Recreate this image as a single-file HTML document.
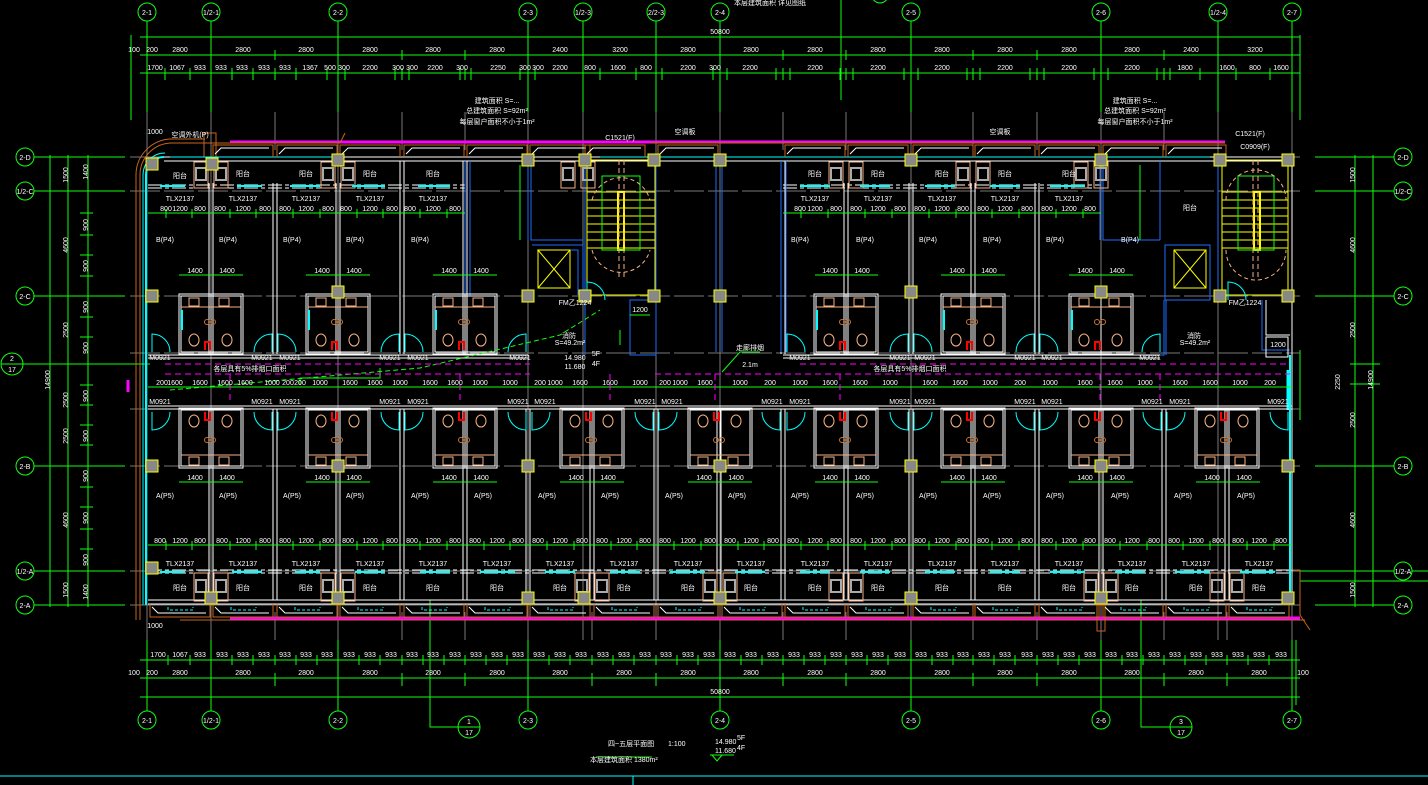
<!DOCTYPE html>
<html><head><meta charset="utf-8"><style>
html,body{margin:0;padding:0;background:#000;width:1428px;height:785px;overflow:hidden}
svg{display:block}
text{font-family:"Liberation Sans","Noto Sans CJK SC",sans-serif;fill:#fff;font-size:7px}
</style></head><body>
<svg width="1428" height="785" viewBox="0 0 1428 785" xmlns="http://www.w3.org/2000/svg">
<defs>
<g id="col"><rect x="-6" y="-6" width="12" height="12" fill="#888" stroke="#ff0" stroke-width="1"/></g>
<g id="ub" fill="none" stroke-width="1">
 <rect x="-32" y="294" width="64" height="60" stroke="#fff"/>
 <rect x="-30" y="296" width="60" height="56" stroke="#fff"/>
 <line x1="0" y1="294" x2="0" y2="354" stroke="#fff"/>
 <line x1="-30" y1="307" x2="30" y2="307" stroke="#f4b183"/>
 <rect x="-22" y="298" width="10" height="8" stroke="#f4b183"/><rect x="8" y="298" width="10" height="8" stroke="#f4b183"/>
 <ellipse cx="-17" cy="340" rx="5" ry="6" stroke="#f4b183"/><ellipse cx="16" cy="340" rx="5" ry="6" stroke="#f4b183"/>
 <path d="M-6 350 V342 H-1 V350" stroke="#f00" stroke-width="2"/>
 <circle cx="-4" cy="322" r="2.5" stroke="#c87533"/><circle cx="2" cy="322" r="2.5" stroke="#c87533"/>
 <line x1="-29" y1="310" x2="-29" y2="330" stroke="#0ff" stroke-width="2"/>
</g>
<g id="lb" fill="none" stroke-width="1">
 <rect x="-32" y="408" width="64" height="60" stroke="#fff"/>
 <rect x="-30" y="410" width="60" height="56" stroke="#fff"/>
 <line x1="0" y1="408" x2="0" y2="468" stroke="#fff"/>
 <line x1="-30" y1="455" x2="30" y2="455" stroke="#f4b183"/>
 <rect x="-22" y="457" width="10" height="8" stroke="#f4b183"/><rect x="8" y="457" width="10" height="8" stroke="#f4b183"/>
 <ellipse cx="-17" cy="421" rx="5" ry="6" stroke="#f4b183"/><ellipse cx="16" cy="421" rx="5" ry="6" stroke="#f4b183"/>
 <path d="M-6 412 V420 H-1 V412" stroke="#f00" stroke-width="2"/>
 <circle cx="-4" cy="440" r="2.5" stroke="#c87533"/><circle cx="2" cy="440" r="2.5" stroke="#c87533"/>
</g>
<g id="wu" fill="none" stroke-width="1">
 <rect x="-17" y="162" width="14" height="26" stroke="#f4b183"/><rect x="-15" y="168" width="10" height="12" stroke="#aaa" stroke-width="2"/>
 <rect x="3" y="162" width="14" height="26" stroke="#f4b183"/><rect x="5" y="168" width="10" height="12" stroke="#aaa" stroke-width="2"/>
</g>
<g id="wl" fill="none" stroke-width="1">
 <rect x="-17" y="573" width="14" height="28" stroke="#f4b183"/><rect x="-15" y="580" width="10" height="12" stroke="#aaa" stroke-width="2"/>
 <rect x="3" y="573" width="14" height="28" stroke="#f4b183"/><rect x="5" y="580" width="10" height="12" stroke="#aaa" stroke-width="2"/>
</g>
<g id="balc" fill="none" stroke-width="1">
 <path d="M4 607 L10 613 H58" stroke="#fff"/>
 <path d="M20 607 V610 H45 V607" stroke="#0ff" stroke-dasharray="3 2"/>
 <path d="M2 604 V617 H62 V604" stroke="#c8641e"/>
</g>
<g id="btop" fill="none" stroke-width="1">
 <path d="M4 154 L10 148 H58" stroke="#fff"/>
 <path d="M2 157 V145 H62 V157" stroke="#c8641e"/>
</g>
<g id="door" fill="none" stroke="#0ff" stroke-width="1"><path d="M0 0 V-18 A18 18 0 0 1 18 0"/></g>
</defs>

<!-- grid lines vertical -->
<g stroke="#1f1" stroke-width="1" fill="none">
 <line x1="147" y1="21" x2="147" y2="120"/><line x1="211" y1="21" x2="211" y2="120"/><line x1="338" y1="21" x2="338" y2="120"/>
 <line x1="528" y1="21" x2="528" y2="120"/><line x1="583" y1="21" x2="583" y2="120"/><line x1="656" y1="21" x2="656" y2="120"/>
 <line x1="720" y1="21" x2="720" y2="120"/><line x1="911" y1="21" x2="911" y2="120"/><line x1="1101" y1="21" x2="1101" y2="120"/>
 <line x1="1218" y1="21" x2="1218" y2="120"/><line x1="1292" y1="21" x2="1292" y2="120"/><line x1="841" y1="0" x2="841" y2="100"/>
 <line x1="147" y1="640" x2="147" y2="711"/><line x1="211" y1="640" x2="211" y2="711"/><line x1="338" y1="640" x2="338" y2="711"/>
 <line x1="528" y1="640" x2="528" y2="711"/><line x1="720" y1="640" x2="720" y2="711"/><line x1="911" y1="640" x2="911" y2="711"/>
 <line x1="1101" y1="640" x2="1101" y2="711"/><line x1="1292" y1="640" x2="1292" y2="711"/>
 <path d="M430 600 V727 H458"/><path d="M1141 600 V727 H1170"/>
 <!-- top dims -->
 <line x1="140" y1="37" x2="1300" y2="37"/><line x1="140" y1="55" x2="1300" y2="55"/><line x1="140" y1="73" x2="1300" y2="73"/>
 <line x1="140" y1="660" x2="1300" y2="660"/><line x1="140" y1="678" x2="1300" y2="678"/><line x1="140" y1="697" x2="1300" y2="697"/>
 <!-- horizontal axes -->
 <line x1="34" y1="157" x2="125" y2="157"/><line x1="34" y1="191" x2="125" y2="191"/><line x1="34" y1="296" x2="125" y2="296"/>
 <line x1="23" y1="364" x2="150" y2="364"/><line x1="34" y1="466" x2="125" y2="466"/><line x1="34" y1="571" x2="125" y2="571"/><line x1="34" y1="605" x2="125" y2="605"/>
 <line x1="1315" y1="157" x2="1394" y2="157"/><line x1="1315" y1="191" x2="1394" y2="191"/><line x1="1315" y1="296" x2="1394" y2="296"/>
 <line x1="1315" y1="466" x2="1394" y2="466"/><line x1="1300" y1="571" x2="1428" y2="571"/><line x1="1300" y1="581" x2="1428" y2="581"/><line x1="1315" y1="605" x2="1394" y2="605"/>
 <line x1="50" y1="155" x2="50" y2="607"/><line x1="68" y1="155" x2="68" y2="607"/><line x1="88" y1="155" x2="88" y2="607"/>
 <line x1="1355" y1="155" x2="1355" y2="607"/><line x1="1373" y1="155" x2="1373" y2="607"/><line x1="1300" y1="350" x2="1300" y2="420"/>
 <line x1="131" y1="35" x2="131" y2="120"/><line x1="1300" y1="35" x2="1300" y2="120"/>
 <line x1="1296" y1="640" x2="1296" y2="705"/>
</g>
<!-- dim ticks -->
<g stroke="#1f1" stroke-width="1">
 <path d="M147 50V60M211 50V60M275 50V60M338 50V60M402 50V60M465 50V60M528 50V60M583 50V60M656 50V60M720 50V60M783 50V60M846 50V60M911 50V60M973 50V60M1037 50V60M1101 50V60M1164 50V60M1218 50V60M1292 50V60"/>
 <path d="M165 68V80M190 68V80M211 68V80M232 68V80M253 68V80M275 68V80M296 68V80M327 68V80M345 68V80M395 68V80M402 68V80M409 68V80M460 68V80M465 68V80M471 68V80M520 68V80M528 68V80M535 68V80M583 68V80M600 68V80M636 68V80M656 68V80M662 68V80M713 68V80M720 68V80M727 68V80M776 68V80M783 68V80M790 68V80M840 68V80M846 68V80M853 68V80M904 68V80M911 68V80M918 68V80M967 68V80M973 68V80M980 68V80M1030 68V80M1037 68V80M1044 68V80M1094 68V80M1101 68V80M1108 68V80M1157 68V80M1164 68V80M1170 68V80M1200 68V80M1218 68V80M1236 68V80M1270 68V80M1292 68V80"/>
 <path d="M147 655V665M168 655V665M190 655V665M211 655V665M232 655V665M253 655V665M275 655V665M296 655V665M317 655V665M338 655V665M359 655V665M380 655V665M402 655V665M423 655V665M444 655V665M465 655V665M486 655V665M507 655V665M528 655V665M549 655V665M570 655V665M592 655V665M613 655V665M634 655V665M656 655V665M677 655V665M698 655V665M720 655V665M741 655V665M762 655V665M783 655V665M804 655V665M825 655V665M846 655V665M867 655V665M888 655V665M911 655V665M932 655V665M953 655V665M973 655V665M994 655V665M1015 655V665M1037 655V665M1058 655V665M1079 655V665M1101 655V665M1122 655V665M1143 655V665M1164 655V665M1185 655V665M1206 655V665M1227 655V665M1248 655V665M1269 655V665M1292 655V665"/>
 <path d="M147 673V686M211 673V686M275 673V686M338 673V686M402 673V686M465 673V686M528 673V686M592 673V686M656 673V686M720 673V686M783 673V686M846 673V686M911 673V686M973 673V686M1037 673V686M1101 673V686M1164 673V686M1227 673V686M1292 673V686"/>
 <path d="M45 157H93M45 191H93M45 296H93M45 364H93M45 466H93M45 571H93M45 605H93M80 213H93M80 235H93M80 255H93M80 276H93M80 317H93M80 337H93M80 385H93M80 405H93M80 425H93M80 445H93M80 487H93M80 507H93M80 529H93M80 549H93"/>
 <path d="M1350 157H1380M1350 191H1380M1350 296H1380M1350 364H1380M1350 384H1380M1350 466H1380M1350 571H1380M1350 605H1380"/>
</g>
<!-- axis circles -->
<g fill="#000" stroke="#1f1" stroke-width="1">
 <circle cx="147" cy="12" r="9"/><circle cx="211" cy="12" r="9"/><circle cx="338" cy="12" r="9"/><circle cx="528" cy="12" r="9"/>
 <circle cx="583" cy="12" r="9"/><circle cx="656" cy="12" r="9"/><circle cx="720" cy="12" r="9"/><circle cx="911" cy="12" r="9"/>
 <circle cx="1101" cy="12" r="9"/><circle cx="1218" cy="12" r="9"/><circle cx="1292" cy="12" r="9"/>
 <circle cx="147" cy="720" r="9"/><circle cx="211" cy="720" r="9"/><circle cx="338" cy="720" r="9"/><circle cx="528" cy="720" r="9"/>
 <circle cx="720" cy="720" r="9"/><circle cx="911" cy="720" r="9"/><circle cx="1101" cy="720" r="9"/><circle cx="1292" cy="720" r="9"/>
 <circle cx="469" cy="727" r="11"/><circle cx="1181" cy="727" r="11"/><line x1="458" y1="727" x2="480" y2="727"/><line x1="1170" y1="727" x2="1192" y2="727"/>
 <circle cx="25" cy="157" r="9"/><circle cx="25" cy="191" r="9"/><circle cx="25" cy="296" r="9"/><circle cx="12" cy="364" r="11"/><line x1="1" y1="364" x2="23" y2="364"/>
 <circle cx="25" cy="466" r="9"/><circle cx="25" cy="571" r="9"/><circle cx="25" cy="605" r="9"/>
 <circle cx="1403" cy="157" r="9"/><circle cx="1403" cy="191" r="9"/><circle cx="1403" cy="296" r="9"/><circle cx="1403" cy="466" r="9"/><circle cx="1403" cy="571" r="9"/><circle cx="1403" cy="605" r="9"/>
 <circle cx="880" cy="-5" r="8"/>
</g>
<g font-size="7" text-anchor="middle">
 <text x="147" y="15">2-1</text><text x="211" y="15">1/2-1</text><text x="338" y="15">2-2</text><text x="528" y="15">2-3</text><text x="583" y="15">1/2-3</text><text x="656" y="15">2/2-3</text><text x="720" y="15">2-4</text><text x="911" y="15">2-5</text><text x="1101" y="15">2-6</text><text x="1218" y="15">1/2-4</text><text x="1292" y="15">2-7</text>
 <text x="147" y="723">2-1</text><text x="211" y="723">1/2-1</text><text x="338" y="723">2-2</text><text x="528" y="723">2-3</text><text x="720" y="723">2-4</text><text x="911" y="723">2-5</text><text x="1101" y="723">2-6</text><text x="1292" y="723">2-7</text>
 <text x="469" y="724">1</text><text x="469" y="735">17</text><text x="1181" y="724">3</text><text x="1181" y="735">17</text>
 <text x="25" y="160">2-D</text><text x="25" y="194">1/2-C</text><text x="25" y="299">2-C</text><text x="12" y="361">2</text><text x="12" y="372">17</text><text x="25" y="469">2-B</text><text x="25" y="574">1/2-A</text><text x="25" y="608">2-A</text>
 <text x="1403" y="160">2-D</text><text x="1403" y="194">1/2-C</text><text x="1403" y="299">2-C</text><text x="1403" y="469">2-B</text><text x="1403" y="574">1/2-A</text><text x="1403" y="608">2-A</text>
 <text x="720" y="34">50800</text><text x="720" y="694">50800</text>
 <text x="134" y="52">100</text><text x="152" y="52">200</text><text x="180" y="52">2800</text><text x="243" y="52">2800</text><text x="306" y="52">2800</text><text x="370" y="52">2800</text><text x="433" y="52">2800</text><text x="497" y="52">2800</text><text x="560" y="52">2400</text><text x="620" y="52">3200</text><text x="688" y="52">2800</text><text x="751" y="52">2800</text><text x="815" y="52">2800</text><text x="878" y="52">2800</text><text x="942" y="52">2800</text><text x="1005" y="52">2800</text><text x="1069" y="52">2800</text><text x="1132" y="52">2800</text><text x="1191" y="52">2400</text><text x="1255" y="52">3200</text>
 <text x="155" y="70">1700</text><text x="177" y="70">1067</text><text x="200" y="70">933</text><text x="221" y="70">933</text><text x="242" y="70">933</text><text x="264" y="70">933</text><text x="285" y="70">933</text><text x="310" y="70">1367</text><text x="330" y="70">500</text><text x="344" y="70">300</text><text x="370" y="70">2200</text><text x="398" y="70">300</text><text x="412" y="70">300</text><text x="435" y="70">2200</text><text x="462" y="70">300</text><text x="498" y="70">2250</text><text x="525" y="70">300</text><text x="538" y="70">300</text><text x="560" y="70">2200</text><text x="590" y="70">800</text><text x="618" y="70">1600</text><text x="646" y="70">800</text><text x="688" y="70">2200</text><text x="715" y="70">300</text><text x="750" y="70">2200</text><text x="815" y="70">2200</text><text x="878" y="70">2200</text><text x="942" y="70">2200</text><text x="1005" y="70">2200</text><text x="1069" y="70">2200</text><text x="1132" y="70">2200</text><text x="1185" y="70">1800</text><text x="1227" y="70">1600</text><text x="1255" y="70">800</text><text x="1281" y="70">1600</text>
 <text x="158" y="657">1700</text><text x="180" y="657">1067</text><text x="200" y="657">933</text><text x="222" y="657">933</text><text x="243" y="657">933</text><text x="264" y="657">933</text><text x="285" y="657">933</text><text x="306" y="657">933</text><text x="327" y="657">933</text><text x="349" y="657">933</text><text x="370" y="657">933</text><text x="391" y="657">933</text><text x="412" y="657">933</text><text x="433" y="657">933</text><text x="455" y="657">933</text><text x="476" y="657">933</text><text x="497" y="657">933</text><text x="518" y="657">933</text><text x="539" y="657">933</text><text x="560" y="657">933</text><text x="581" y="657">933</text><text x="603" y="657">933</text><text x="624" y="657">933</text><text x="645" y="657">933</text><text x="666" y="657">933</text><text x="688" y="657">933</text><text x="709" y="657">933</text><text x="730" y="657">933</text><text x="751" y="657">933</text><text x="773" y="657">933</text><text x="794" y="657">933</text><text x="815" y="657">933</text><text x="836" y="657">933</text><text x="857" y="657">933</text><text x="878" y="657">933</text><text x="900" y="657">933</text><text x="921" y="657">933</text><text x="942" y="657">933</text><text x="963" y="657">933</text><text x="984" y="657">933</text><text x="1005" y="657">933</text><text x="1027" y="657">933</text><text x="1048" y="657">933</text><text x="1069" y="657">933</text><text x="1090" y="657">933</text><text x="1111" y="657">933</text><text x="1132" y="657">933</text><text x="1154" y="657">933</text><text x="1175" y="657">933</text><text x="1196" y="657">933</text><text x="1217" y="657">933</text><text x="1238" y="657">933</text><text x="1259" y="657">933</text><text x="1281" y="657">933</text>
 <text x="134" y="675">100</text><text x="152" y="675">200</text><text x="180" y="675">2800</text><text x="243" y="675">2800</text><text x="306" y="675">2800</text><text x="370" y="675">2800</text><text x="433" y="675">2800</text><text x="497" y="675">2800</text><text x="560" y="675">2800</text><text x="624" y="675">2800</text><text x="688" y="675">2800</text><text x="751" y="675">2800</text><text x="815" y="675">2800</text><text x="878" y="675">2800</text><text x="942" y="675">2800</text><text x="1005" y="675">2800</text><text x="1069" y="675">2800</text><text x="1132" y="675">2800</text><text x="1196" y="675">2800</text><text x="1259" y="675">2800</text><text x="1303" y="675">100</text>
</g>
<g font-size="7" text-anchor="middle">
 <text transform="translate(68,175) rotate(-90)">1500</text><text transform="translate(68,245) rotate(-90)">4600</text><text transform="translate(68,330) rotate(-90)">2500</text><text transform="translate(68,400) rotate(-90)">2500</text><text transform="translate(68,436) rotate(-90)">2500</text><text transform="translate(68,520) rotate(-90)">4600</text><text transform="translate(68,590) rotate(-90)">1500</text><text transform="translate(50,380) rotate(-90)">14900</text>
 <text transform="translate(88,172) rotate(-90)">1400</text><text transform="translate(88,225) rotate(-90)">900</text><text transform="translate(88,266) rotate(-90)">900</text><text transform="translate(88,307) rotate(-90)">900</text><text transform="translate(88,348) rotate(-90)">900</text><text transform="translate(88,396) rotate(-90)">900</text><text transform="translate(88,436) rotate(-90)">900</text><text transform="translate(88,476) rotate(-90)">900</text><text transform="translate(88,518) rotate(-90)">900</text><text transform="translate(88,560) rotate(-90)">900</text><text transform="translate(88,592) rotate(-90)">1400</text>
 <text transform="translate(1355,175) rotate(-90)">1500</text><text transform="translate(1355,245) rotate(-90)">4600</text><text transform="translate(1355,330) rotate(-90)">2500</text><text transform="translate(1355,420) rotate(-90)">2500</text><text transform="translate(1355,520) rotate(-90)">4600</text><text transform="translate(1355,590) rotate(-90)">1500</text><text transform="translate(1373,380) rotate(-90)">14900</text><text transform="translate(1340,382) rotate(-90)">2250</text>
</g>

<!-- gray center lines inside building -->
<g stroke="#777" stroke-width="1" fill="none">
 <line x1="130" y1="157" x2="1300" y2="157"/><line x1="130" y1="191" x2="1300" y2="191" stroke-dasharray="30 4"/><line x1="130" y1="296" x2="1300" y2="296" stroke-dasharray="30 4"/>
 <line x1="130" y1="466" x2="1300" y2="466" stroke-dasharray="30 4"/><line x1="130" y1="571" x2="1300" y2="571" stroke-dasharray="30 4"/><line x1="130" y1="605" x2="1300" y2="605"/>
 <line x1="130" y1="353" x2="1300" y2="353" stroke-dasharray="30 4"/><line x1="130" y1="409" x2="1300" y2="409" stroke-dasharray="30 4"/>
 <path d="M147 112V640M211 112V640M338 112V640M528 112V640M583 112V640M656 112V640M720 112V640M911 112V640M1101 112V640M1218 112V640M1292 112V640M275 112V150M402 112V150M465 112V150M783 112V150M846 112V150M973 112V150M1037 112V150M1164 112V150M275 612V640M402 612V640M465 612V640M592 612V640M783 612V640M846 612V640M973 612V640M1037 612V640M1164 612V640M1227 612V640"/>
</g>

<!-- exterior -->
<g fill="none">
 <path d="M230 142H1225" stroke="#f0f" stroke-width="3"/><path d="M230 618H1300" stroke="#f0f" stroke-width="3"/>
 <path d="M170 143H340 L345 133 M650 143H1225 M180 620H1305" stroke="#c8641e" stroke-width="1"/>
 <path d="M140 620 V175 A32 32 0 0 1 172 143 H205" stroke="#c8641e" stroke-width="1"/>
 <path d="M136 620 V175 A36 36 0 0 1 172 139 H205" stroke="#c8641e" stroke-width="1"/>
 <rect x="204" y="133" width="12" height="24" stroke="#c8641e"/><rect x="1097" y="605" width="8" height="26" stroke="#c8641e"/>
 <path d="M1290 570 H1300 V615 L1310 630" stroke="#c8641e"/>
 <path d="M146 605 V175 A18 18 0 0 1 164 157" stroke="#0ff" stroke-width="2"/>
 <path d="M143 605 V175 A22 22 0 0 1 165 153" stroke="#0ff" stroke-width="1"/>
 <path d="M164 157 H1292 M164 161 H1292" stroke="#fff" stroke-width="1"/>
 <path d="M148 600 H1292 M148 604 H1292" stroke="#fff" stroke-width="1"/>
 <path d="M170 157 H340 M600 157 H1210" stroke="#0ff" stroke-width="1"/>
 <path d="M1292 160 V600" stroke="#fff" stroke-width="1"/>
 <path d="M1288 370 V410" stroke="#0ff" stroke-width="3"/>
 <path d="M0 776 H1428" stroke="#0ff" stroke-width="1"/><path d="M633 776 V785" stroke="#0ff"/>
</g>
<!-- balconies -->
<use href="#btop" x="211"/><use href="#btop" x="275"/><use href="#btop" x="338"/><use href="#btop" x="402"/><use href="#btop" x="465"/><use href="#btop" x="528"/><use href="#btop" x="583"/><use href="#btop" x="656"/><use href="#btop" x="783"/><use href="#btop" x="846"/><use href="#btop" x="911"/><use href="#btop" x="973"/><use href="#btop" x="1037"/><use href="#btop" x="1101"/><use href="#btop" x="1164"/>
<use href="#balc" x="148"/><use href="#balc" x="211"/><use href="#balc" x="275"/><use href="#balc" x="338"/><use href="#balc" x="402"/><use href="#balc" x="465"/><use href="#balc" x="528"/><use href="#balc" x="592"/><use href="#balc" x="656"/><use href="#balc" x="720"/><use href="#balc" x="783"/><use href="#balc" x="846"/><use href="#balc" x="911"/><use href="#balc" x="973"/><use href="#balc" x="1037"/><use href="#balc" x="1101"/><use href="#balc" x="1164"/><use href="#balc" x="1227"/>

<!-- room walls -->
<g stroke="#fff" stroke-width="1" fill="none">
 <path d="M209 183V354M213 183V354M273 183V354M277 183V354M336 183V354M340 183V354M400 161V354M404 161V354M463 161V354M467 161V354"/>
 <path d="M781 161V354M785 161V354M844 183V354M848 183V354M909 183V354M913 183V354M971 183V354M975 183V354M1035 183V354M1039 183V354"/>
 <path d="M148 355H528M148 358H528M783 355H1160M783 358H1160"/>
 <path d="M148 185H465M148 188H465M783 185H1101M783 188H1101" stroke-dasharray="14 3 4 3"/>
 <path d="M148 406H1292M148 409H1292"/>
 <path d="M148 570H1292M148 573H1292" stroke-dasharray="14 3 4 3"/>
 <path d="M209 409V600M213 409V600M273 409V600M277 409V600M336 409V600M340 409V600M400 409V600M404 409V600M463 409V600M467 409V600M526 409V600M530 409V600M590 409V600M594 409V600M654 409V600M658 409V600M717 409V600M721 409V600M781 409V600M785 409V600M844 409V600M848 409V600M909 409V600M913 409V600M971 409V600M975 409V600M1035 409V600M1039 409V600M1099 409V600M1103 409V600M1162 409V600M1166 409V600M1225 409V600M1229 409V600"/>
</g>
<!-- blue walls -->
<g stroke="#1e6eff" stroke-width="1" fill="none">
 <path d="M465 161V296M470 161V296M528 161V240M531 161V240 H583M532 245H583V300M537 250H578V295"/>
 <path d="M585 161V355M656 161V355M716 161V352M722 161V352M781 161V352M786 161V352M650 300H630V355H656"/>
 <path d="M1100 161V240M1103 161V240H1160M1160 161V240M1165 245H1210V300H1165ZM1166 300V355M1160 355H1164V300"/>
 <path d="M1218 161V300M1262 300V350H1290"/>
</g>
<!-- stairs -->
<g fill="none" stroke-width="1">
 <rect x="587" y="160" width="68" height="135" stroke="#ff0"/>
 <path d="M587 192H655M587 200H655M587 208H655M587 216H655M587 224H655M587 232H655M587 240H655M587 248H655" stroke="#ff0"/>
 <rect x="618" y="192" width="6" height="58" stroke="#ff0" stroke-width="2"/>
 <rect x="602" y="176" width="38" height="74" stroke="#1f1"/>
 <path d="M592 200 A30 30 0 0 1 650 200 M592 250 A30 30 0 0 0 650 250" stroke="#f4b183" stroke-dasharray="4 3"/>
 <path d="M619 160V280M624 160V280" stroke="#f4b183" stroke-dasharray="5 3"/>
 <rect x="538" y="250" width="32" height="38" stroke="#ff0"/><path d="M538 250L570 288M570 250L538 288" stroke="#ff0"/>
 <rect x="1222" y="160" width="66" height="135" stroke="#ff0"/>
 <path d="M1222 192H1288M1222 200H1288M1222 208H1288M1222 216H1288M1222 224H1288M1222 232H1288M1222 240H1288M1222 248H1288" stroke="#ff0"/>
 <rect x="1254" y="192" width="6" height="58" stroke="#ff0" stroke-width="2"/>
 <rect x="1238" y="176" width="36" height="74" stroke="#1f1"/>
 <path d="M1226 200 A30 30 0 0 1 1286 200 M1226 250 A30 30 0 0 0 1286 250" stroke="#f4b183" stroke-dasharray="4 3"/>
 <path d="M1253 160V280M1258 160V280" stroke="#f4b183" stroke-dasharray="5 3"/>
 <rect x="1174" y="250" width="32" height="38" stroke="#ff0"/><path d="M1174 250L1206 288M1206 250L1174 288" stroke="#ff0"/>
 <path d="M1266 300V335H1290" stroke="#fff"/><rect x="1266" y="337" width="22" height="20" stroke="#fff"/>
 <path d="M1290 355V600" stroke="#0ff" stroke-width="2"/>
</g>
<!-- bathrooms -->
<use href="#ub" x="211"/><use href="#ub" x="338"/><use href="#ub" x="465"/><use href="#ub" x="846"/><use href="#ub" x="973"/><use href="#ub" x="1101"/>
<use href="#lb" x="211"/><use href="#lb" x="338"/><use href="#lb" x="465"/><use href="#lb" x="592"/><use href="#lb" x="720"/><use href="#lb" x="846"/><use href="#lb" x="973"/><use href="#lb" x="1101"/><use href="#lb" x="1227"/>
<use href="#wu" x="211"/><use href="#wu" x="338"/><use href="#wu" x="578"/><use href="#wu" x="846"/><use href="#wu" x="973"/><use href="#wu" x="1091"/>
<use href="#wl" x="211"/><use href="#wl" x="338"/><use href="#wl" x="592"/><use href="#wl" x="720"/><use href="#wl" x="846"/><use href="#wl" x="1101"/><use href="#wl" x="1227"/>
<!-- doors -->
<g>
 <use href="#door" x="152" y="352"/><use href="#door" transform="translate(272,352) scale(-1,1)"/><use href="#door" x="278" y="352"/><use href="#door" transform="translate(399,352) scale(-1,1)"/><use href="#door" x="405" y="352"/><use href="#door" transform="translate(526,352) scale(-1,1)"/>
 <use href="#door" x="787" y="352"/><use href="#door" transform="translate(908,352) scale(-1,1)"/><use href="#door" x="914" y="352"/><use href="#door" transform="translate(1034,352) scale(-1,1)"/><use href="#door" x="1040" y="352"/><use href="#door" transform="translate(1160,352) scale(-1,1)"/>
 <use href="#door" transform="translate(152,412) scale(1,-1)"/><use href="#door" transform="translate(272,412) scale(-1,-1)"/><use href="#door" transform="translate(278,412) scale(1,-1)"/><use href="#door" transform="translate(399,412) scale(-1,-1)"/><use href="#door" transform="translate(405,412) scale(1,-1)"/><use href="#door" transform="translate(526,412) scale(-1,-1)"/><use href="#door" transform="translate(532,412) scale(1,-1)"/><use href="#door" transform="translate(653,412) scale(-1,-1)"/><use href="#door" transform="translate(659,412) scale(1,-1)"/><use href="#door" transform="translate(780,412) scale(-1,-1)"/><use href="#door" transform="translate(787,412) scale(1,-1)"/><use href="#door" transform="translate(908,412) scale(-1,-1)"/><use href="#door" transform="translate(914,412) scale(1,-1)"/><use href="#door" transform="translate(1034,412) scale(-1,-1)"/><use href="#door" transform="translate(1040,412) scale(1,-1)"/><use href="#door" transform="translate(1161,412) scale(-1,-1)"/><use href="#door" transform="translate(1167,412) scale(1,-1)"/><use href="#door" transform="translate(1288,412) scale(-1,-1)"/>
 <use href="#door" x="587" y="300"/><use href="#door" x="1228" y="300"/>
</g>
<!-- cyan windows -->
<g stroke="#0ff" stroke-width="2">
 <path d="M160 186H185M237 186H262M290 186H320M352 186H385M418 186H450M800 186H830M860 186H890M925 186H955M990 186H1020M1050 186H1085"/>
 <path d="M160 572H185M232 572H262M295 572H320M355 572H385M420 572H450M480 572H515M545 572H575M610 572H640M670 572H705M735 572H765M800 572H830M860 572H890M925 572H955M990 572H1020M1050 572H1085M1115 572H1145M1175 572H1210M1240 572H1275"/>
</g>
<!-- interior green dims -->
<g stroke="#1f1" stroke-width="1" fill="none">
 <path d="M148 213H465M783 213H1101M148 545H1292M148 387H1292"/>
 <path d="M179 275H243M306 275H370M433 275H497M815 275H878M941 275H1005M1069 275H1133"/>
 <path d="M179 482H243M306 482H370M433 482H497M560 482H624M688 482H752M815 482H878M941 482H1005M1069 482H1133M1196 482H1260"/>
 <path d="M166 209V218M192 209V218M230 209V218M256 209V218M293 209V218M320 209V218M357 209V218M383 209V218M420 209V218M447 209V218M801 209V218M828 209V218M865 209V218M892 209V218M929 209V218M956 209V218M992 209V218M1019 209V218M1056 209V218M1083 209V218"/>
 <path d="M166 541V550M192 541V550M230 541V550M256 541V550M293 541V550M320 541V550M357 541V550M383 541V550M420 541V550M447 541V550M484 541V550M510 541V550M547 541V550M574 541V550M611 541V550M637 541V550M674 541V550M701 541V550M738 541V550M764 541V550M801 541V550M828 541V550M865 541V550M892 541V550M929 541V550M956 541V550M992 541V550M1019 541V550M1056 541V550M1083 541V550M1120 541V550M1147 541V550M1183 541V550M1210 541V550M1247 541V550M1274 541V550"/>
 <path d="M520 165V240M1140 165V240M630 315H650M620 330V345"/>
 <path d="M170 390 L420 368 L560 335 L600 310" stroke-dasharray="5 3"/>
 <path d="M722 372L740 352H760M380 368V378H300V385"/>
</g>
<g stroke="#f0f" stroke-width="1" fill="none" stroke-dasharray="6 4">
 <path d="M165 364H530M800 364H1290M165 374H530M655 374H1290M230 374V400M460 374V400M610 374V400M715 374V400M840 374V400M1100 374V400M1160 374V400"/>
 <path d="M128 380 V392" stroke-dasharray="none" stroke-width="3"/>
</g>
<!-- columns -->
<g>
 <use href="#col" x="152" y="164"/><use href="#col" x="212" y="164"/><use href="#col" x="338" y="160"/><use href="#col" x="528" y="160"/><use href="#col" x="585" y="160"/><use href="#col" x="654" y="160"/><use href="#col" x="720" y="160"/><use href="#col" x="911" y="160"/><use href="#col" x="1101" y="160"/><use href="#col" x="1220" y="160"/><use href="#col" x="1288" y="160"/>
 <use href="#col" x="152" y="296"/><use href="#col" x="338" y="292"/><use href="#col" x="528" y="296"/><use href="#col" x="585" y="296"/><use href="#col" x="654" y="296"/><use href="#col" x="720" y="296"/><use href="#col" x="911" y="292"/><use href="#col" x="1101" y="292"/><use href="#col" x="1220" y="296"/><use href="#col" x="1288" y="296"/>
 <use href="#col" x="152" y="466"/><use href="#col" x="338" y="466"/><use href="#col" x="528" y="466"/><use href="#col" x="720" y="466"/><use href="#col" x="911" y="466"/><use href="#col" x="1101" y="466"/><use href="#col" x="1288" y="466"/>
 <use href="#col" x="152" y="568"/><use href="#col" x="211" y="598"/><use href="#col" x="338" y="598"/><use href="#col" x="528" y="598"/><use href="#col" x="584" y="598"/><use href="#col" x="720" y="598"/><use href="#col" x="911" y="598"/><use href="#col" x="1101" y="598"/><use href="#col" x="1288" y="598"/>
</g>
<!-- small labels -->
<g font-size="5" text-anchor="middle">
 <text x="180" y="201">TLX2137</text><text x="243" y="201">TLX2137</text><text x="306" y="201">TLX2137</text><text x="370" y="201">TLX2137</text><text x="433" y="201">TLX2137</text><text x="815" y="201">TLX2137</text><text x="878" y="201">TLX2137</text><text x="942" y="201">TLX2137</text><text x="1005" y="201">TLX2137</text><text x="1069" y="201">TLX2137</text>
 <text x="166" y="211">800</text><text x="180" y="211">1200</text><text x="200" y="211">800</text><text x="220" y="211">800</text><text x="243" y="211">1200</text><text x="265" y="211">800</text><text x="285" y="211">800</text><text x="306" y="211">1200</text><text x="328" y="211">800</text><text x="346" y="211">800</text><text x="370" y="211">1200</text><text x="392" y="211">800</text><text x="410" y="211">800</text><text x="433" y="211">1200</text><text x="455" y="211">800</text>
 <text x="800" y="211">800</text><text x="815" y="211">1200</text><text x="836" y="211">800</text><text x="856" y="211">800</text><text x="878" y="211">1200</text><text x="900" y="211">800</text><text x="920" y="211">800</text><text x="942" y="211">1200</text><text x="963" y="211">800</text><text x="983" y="211">800</text><text x="1005" y="211">1200</text><text x="1027" y="211">800</text><text x="1047" y="211">800</text><text x="1069" y="211">1200</text><text x="1090" y="211">800</text>
 <text x="165" y="242">B(P4)</text><text x="228" y="242">B(P4)</text><text x="292" y="242">B(P4)</text><text x="355" y="242">B(P4)</text><text x="420" y="242">B(P4)</text><text x="800" y="242">B(P4)</text><text x="865" y="242">B(P4)</text><text x="928" y="242">B(P4)</text><text x="992" y="242">B(P4)</text><text x="1055" y="242">B(P4)</text><text x="1130" y="242">B(P4)</text>
 <text x="195" y="273">1400</text><text x="227" y="273">1400</text><text x="322" y="273">1400</text><text x="354" y="273">1400</text><text x="449" y="273">1400</text><text x="481" y="273">1400</text><text x="830" y="273">1400</text><text x="862" y="273">1400</text><text x="957" y="273">1400</text><text x="989" y="273">1400</text><text x="1085" y="273">1400</text><text x="1117" y="273">1400</text>
 <text x="195" y="480">1400</text><text x="227" y="480">1400</text><text x="322" y="480">1400</text><text x="354" y="480">1400</text><text x="449" y="480">1400</text><text x="481" y="480">1400</text><text x="576" y="480">1400</text><text x="608" y="480">1400</text><text x="704" y="480">1400</text><text x="736" y="480">1400</text><text x="830" y="480">1400</text><text x="862" y="480">1400</text><text x="957" y="480">1400</text><text x="989" y="480">1400</text><text x="1085" y="480">1400</text><text x="1117" y="480">1400</text><text x="1212" y="480">1400</text><text x="1244" y="480">1400</text>
 <text x="165" y="498">A(P5)</text><text x="228" y="498">A(P5)</text><text x="292" y="498">A(P5)</text><text x="355" y="498">A(P5)</text><text x="420" y="498">A(P5)</text><text x="483" y="498">A(P5)</text><text x="547" y="498">A(P5)</text><text x="610" y="498">A(P5)</text><text x="674" y="498">A(P5)</text><text x="737" y="498">A(P5)</text><text x="800" y="498">A(P5)</text><text x="865" y="498">A(P5)</text><text x="928" y="498">A(P5)</text><text x="992" y="498">A(P5)</text><text x="1055" y="498">A(P5)</text><text x="1120" y="498">A(P5)</text><text x="1183" y="498">A(P5)</text><text x="1246" y="498">A(P5)</text>
 <text x="160" y="543">800</text><text x="180" y="543">1200</text><text x="200" y="543">800</text><text x="222" y="543">800</text><text x="243" y="543">1200</text><text x="265" y="543">800</text><text x="285" y="543">800</text><text x="306" y="543">1200</text><text x="328" y="543">800</text><text x="348" y="543">800</text><text x="370" y="543">1200</text><text x="392" y="543">800</text><text x="412" y="543">800</text><text x="433" y="543">1200</text><text x="455" y="543">800</text><text x="475" y="543">800</text><text x="497" y="543">1200</text><text x="518" y="543">800</text><text x="538" y="543">800</text><text x="560" y="543">1200</text><text x="582" y="543">800</text><text x="602" y="543">800</text><text x="624" y="543">1200</text><text x="645" y="543">800</text><text x="665" y="543">800</text><text x="688" y="543">1200</text><text x="710" y="543">800</text><text x="730" y="543">800</text><text x="751" y="543">1200</text><text x="773" y="543">800</text><text x="793" y="543">800</text><text x="815" y="543">1200</text><text x="836" y="543">800</text><text x="856" y="543">800</text><text x="878" y="543">1200</text><text x="900" y="543">800</text><text x="920" y="543">800</text><text x="942" y="543">1200</text><text x="963" y="543">800</text><text x="983" y="543">800</text><text x="1005" y="543">1200</text><text x="1027" y="543">800</text><text x="1047" y="543">800</text><text x="1069" y="543">1200</text><text x="1090" y="543">800</text><text x="1110" y="543">800</text><text x="1132" y="543">1200</text><text x="1154" y="543">800</text><text x="1174" y="543">800</text><text x="1196" y="543">1200</text><text x="1218" y="543">800</text><text x="1238" y="543">800</text><text x="1259" y="543">1200</text><text x="1281" y="543">800</text>
 <text x="180" y="566">TLX2137</text><text x="243" y="566">TLX2137</text><text x="306" y="566">TLX2137</text><text x="370" y="566">TLX2137</text><text x="433" y="566">TLX2137</text><text x="497" y="566">TLX2137</text><text x="560" y="566">TLX2137</text><text x="624" y="566">TLX2137</text><text x="688" y="566">TLX2137</text><text x="751" y="566">TLX2137</text><text x="815" y="566">TLX2137</text><text x="878" y="566">TLX2137</text><text x="942" y="566">TLX2137</text><text x="1005" y="566">TLX2137</text><text x="1069" y="566">TLX2137</text><text x="1132" y="566">TLX2137</text><text x="1196" y="566">TLX2137</text><text x="1259" y="566">TLX2137</text>
 <text x="162" y="385">200</text><text x="175" y="385">1600</text><text x="200" y="385">1600</text><text x="225" y="385">1600</text><text x="245" y="385">1600</text><text x="272" y="385">1000</text><text x="288" y="385">200</text><text x="300" y="385">200</text><text x="320" y="385">1000</text><text x="350" y="385">1600</text><text x="375" y="385">1600</text><text x="400" y="385">1000</text><text x="430" y="385">1600</text><text x="455" y="385">1600</text><text x="480" y="385">1000</text><text x="510" y="385">1000</text><text x="540" y="385">200</text><text x="555" y="385">1000</text><text x="580" y="385">1600</text><text x="610" y="385">1600</text><text x="640" y="385">1000</text><text x="665" y="385">200</text><text x="680" y="385">1000</text><text x="705" y="385">1600</text><text x="740" y="385">1000</text><text x="770" y="385">200</text><text x="800" y="385">1000</text><text x="830" y="385">1600</text><text x="860" y="385">1600</text><text x="890" y="385">1000</text><text x="930" y="385">1600</text><text x="960" y="385">1600</text><text x="990" y="385">1000</text><text x="1020" y="385">200</text><text x="1050" y="385">1000</text><text x="1085" y="385">1600</text><text x="1115" y="385">1600</text><text x="1145" y="385">1000</text><text x="1180" y="385">1600</text><text x="1210" y="385">1600</text><text x="1240" y="385">1000</text><text x="1270" y="385">200</text>
 <text x="160" y="360">M0921</text><text x="262" y="360">M0921</text><text x="290" y="360">M0921</text><text x="390" y="360">M0921</text><text x="418" y="360">M0921</text><text x="520" y="360">M0921</text><text x="800" y="360">M0921</text><text x="900" y="360">M0921</text><text x="925" y="360">M0921</text><text x="1025" y="360">M0921</text><text x="1052" y="360">M0921</text><text x="1150" y="360">M0921</text>
 <text x="160" y="404">M0921</text><text x="262" y="404">M0921</text><text x="290" y="404">M0921</text><text x="390" y="404">M0921</text><text x="418" y="404">M0921</text><text x="518" y="404">M0921</text><text x="545" y="404">M0921</text><text x="645" y="404">M0921</text><text x="672" y="404">M0921</text><text x="772" y="404">M0921</text><text x="800" y="404">M0921</text><text x="900" y="404">M0921</text><text x="925" y="404">M0921</text><text x="1025" y="404">M0921</text><text x="1052" y="404">M0921</text><text x="1152" y="404">M0921</text><text x="1180" y="404">M0921</text><text x="1278" y="404">M0921</text>
 <text x="180" y="178">阳台</text><text x="243" y="176">阳台</text><text x="306" y="176">阳台</text><text x="370" y="176">阳台</text><text x="433" y="176">阳台</text><text x="815" y="176">阳台</text><text x="878" y="176">阳台</text><text x="942" y="176">阳台</text><text x="1005" y="176">阳台</text><text x="1069" y="176">阳台</text><text x="1190" y="210">阳台</text>
 <text x="180" y="590">阳台</text><text x="243" y="590">阳台</text><text x="306" y="590">阳台</text><text x="370" y="590">阳台</text><text x="433" y="590">阳台</text><text x="497" y="590">阳台</text><text x="560" y="590">阳台</text><text x="624" y="590">阳台</text><text x="688" y="590">阳台</text><text x="751" y="590">阳台</text><text x="815" y="590">阳台</text><text x="878" y="590">阳台</text><text x="942" y="590">阳台</text><text x="1005" y="590">阳台</text><text x="1069" y="590">阳台</text><text x="1132" y="590">阳台</text><text x="1196" y="590">阳台</text><text x="1259" y="590">阳台</text>
 <text x="575" y="305">FM乙1224</text><text x="1245" y="305">FM乙1224</text><text x="640" y="312" font-size="6">1200</text><text x="1278" y="347" font-size="6">1200</text>
 <text x="570" y="345">S=49.2m²</text><text x="1195" y="345">S=49.2m²</text><text x="750" y="350">走廊排烟</text><text x="750" y="367" font-size="6">2.1m</text>
 <text x="575" y="360" font-size="6">14.980</text><text x="575" y="369" font-size="6">11.680</text><text x="596" y="356" font-size="6">5F</text><text x="596" y="366" font-size="6">4F</text>
 <text x="250" y="371">各层具有5%排烟口面积</text><text x="910" y="371">各层具有5%排烟口面积</text>
 <text x="497" y="103">建筑面积 S=...</text><text x="497" y="113">总建筑面积 S=92m²</text><text x="497" y="124">每层窗户面积不小于1m²</text>
 <text x="1135" y="103">建筑面积 S=...</text><text x="1135" y="113">总建筑面积 S=92m²</text><text x="1135" y="124">每层窗户面积不小于1m²</text>
 <text x="620" y="140">C1521(F)</text><text x="685" y="134">空调板</text><text x="1000" y="134">空调板</text><text x="1250" y="136">C1521(F)</text><text x="1255" y="149">C0909(F)</text>
 <text x="190" y="137" fill="#f0f">空调外机(P)</text><text x="155" y="134">1000</text><text x="155" y="628">1000</text><text x="770" y="5">本层建筑面积 详见图纸</text>
</g>
<g font-size="6" fill="#f00"><text x="562" y="338" fill="#f00">消防</text><text x="1187" y="338" fill="#f00">消防</text></g>
<!-- title -->
<g>
 <text x="608" y="746" font-size="8">四~五层平面图</text><text x="668" y="746" font-size="7">1:100</text>
 <line x1="596" y1="757" x2="652" y2="757" stroke="#1f1"/>
 <text x="590" y="762" font-size="5">本层建筑面积 1380m²</text>
 <text x="715" y="744" font-size="6">14.980</text><text x="715" y="753" font-size="6">11.680</text><text x="737" y="740" font-size="6">5F</text><text x="737" y="750" font-size="6">4F</text>
 <path d="M710 755H734M712 755L717 761L722 755" stroke="#1f1" fill="none"/>
</g>
</svg>
</body></html>
